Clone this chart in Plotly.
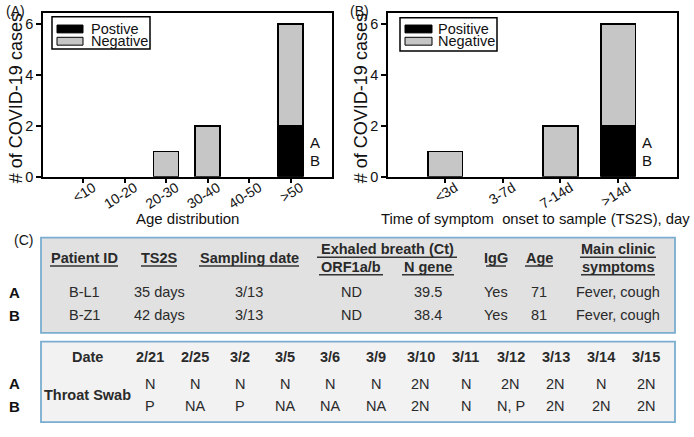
import plotly.graph_objects as go

# ---------------- data ----------------
age_groups = ["<10", "10-20", "20-30", "30-40", "40-50", ">50"]
age_positive = [0, 0, 0, 0, 0, 2]
age_negative = [0, 0, 1, 2, 0, 4]

ts2s_groups = ["<3d", "3-7d", "7-14d", ">14d"]
ts2s_positive = [0, 0, 0, 2]
ts2s_negative = [1, 0, 2, 4]

legend_names_a = ["Postive", "Negative"]
legend_names_b = ["Positive", "Negative"]
y_ticks = [0, 2, 4, 6]
patient_labels = ["A", "B"]
patient_label_y = [1.35, 0.65]

t1_headers = ["Patient ID", "TS2S", "Sampling date", "ORF1a/b", "N gene", "IgG", "Age", "symptoms"]
t1_group_headers = ["Exhaled breath (Ct)", "Main clinic"]
t1_rows = [
    ["B-L1", "35 days", "3/13", "ND", "39.5", "Yes", "71", "Fever, cough"],
    ["B-Z1", "42 days", "3/13", "ND", "38.4", "Yes", "81", "Fever, cough"],
]
t2_dates = ["2/21", "2/25", "3/2", "3/5", "3/6", "3/9", "3/10", "3/11", "3/12", "3/13", "3/14", "3/15"]
t2_rows = [
    ["N", "N", "N", "N", "N", "N", "2N", "N", "2N", "2N", "N", "2N"],
    ["P", "NA", "P", "NA", "NA", "NA", "2N", "N", "N, P", "2N", "2N", "2N"],
]

# ---------------- layout helpers ----------------
W, H = 694, 437
def px(x):
    return x / W
def py(y):
    return 1 - y / H

FONT = '"Liberation Sans", Arial, sans-serif'
GRAY = "#c6c6c6"
INK = "#111111"
TXT = "#2a2a2a"
BORDER = "#7aadd0"

fig = go.Figure()

def add_panel(cats, pos, neg, xa, ya):
    fig.add_trace(go.Bar(x=cats, y=[v if v else None for v in pos], marker=dict(color="black", line=dict(color="black", width=1.5)),
                         width=0.6, xaxis=xa, yaxis=ya, showlegend=False))
    fig.add_trace(go.Bar(x=cats, y=[v if v else None for v in neg], marker=dict(color=GRAY, line=dict(color="black", width=1.5)),
                         width=0.6, xaxis=xa, yaxis=ya, showlegend=False))

add_panel(age_groups, age_positive, age_negative, "x", "y")
add_panel(ts2s_groups, ts2s_positive, ts2s_negative, "x2", "y2")

ydom = [py(180), py(13)]
axis_common = dict(showline=True, linecolor="black", linewidth=1.5, mirror=True, ticks="outside",
                   ticklen=5, tickwidth=1.5, tickcolor="black", showgrid=False, zeroline=False)
xtick = dict(tickangle=-32, ticklabelshift=10, ticklabelstandoff=-9,
             tickfont=dict(family=FONT, size=14, color=INK))
ytick = dict(tickfont=dict(family=FONT, size=14.5, color=INK))
fig.update_layout(
    width=W, height=H, margin=dict(l=0, r=0, t=0, b=0),
    paper_bgcolor="white", plot_bgcolor="white", barmode="stack", bargap=0.4,
    font=dict(family=FONT, color=INK),
    xaxis=dict(domain=[px(43), px(332)], anchor="y", type="category", categoryorder="array",
               categoryarray=age_groups, range=[-0.97, 6.0], **xtick, **axis_common),
    yaxis=dict(domain=ydom, anchor="x", range=[0, 6.45], tickvals=y_ticks, **ytick, **axis_common),
    xaxis2=dict(domain=[px(388), px(677)], anchor="y2", type="category", categoryorder="array",
                categoryarray=ts2s_groups, range=[-0.99, 4.02], **xtick, **axis_common),
    yaxis2=dict(domain=ydom, anchor="x2", range=[0, 6.45], tickvals=y_ticks, **ytick, **axis_common),
)

ann = []
shapes = []

def text(x, y, s, size=14, bold=False, color=TXT, xanchor="center", angle=0):
    ann.append(dict(x=px(x), y=py(y), xref="paper", yref="paper", text=("<b>%s</b>" % s) if bold else s,
                    showarrow=False, xanchor=xanchor, yanchor="middle", textangle=angle,
                    font=dict(family=FONT, size=size, color=color)))

# panel labels and axis titles
text(4, 11, "(A)", 14, color=INK, xanchor="left")
text(348, 11, "(B)", 14, color=INK, xanchor="left")
text(16, 100, "# of COVID-19 cases", 18, color=INK, angle=-90)
text(361, 100, "# of COVID-19 cases", 18, color=INK, angle=-90)
text(188, 223, "Age distribution", 15, color=INK)
text(535, 223, "Time of symptom\u00a0 onset to sample (TS2S), day", 14.8, color=INK)

# A / B labels beside the positive bars
for lab, yv in zip(patient_labels, patient_label_y):
    ann.append(dict(x=age_groups[-1], y=yv, xref="x", yref="y", text=lab, showarrow=False, xanchor="left",
                    xshift=17, font=dict(family=FONT, size=15, color=INK)))
    ann.append(dict(x=ts2s_groups[-1], y=yv, xref="x2", yref="y2", text=lab, showarrow=False, xanchor="left",
                    xshift=22, font=dict(family=FONT, size=15, color=INK)))

# manual legends
def legend(box, sym_x, txt_x, names):
    x0, y0, x1, y1 = box
    shapes.append(dict(type="rect", xref="paper", yref="paper", x0=px(x0), x1=px(x1), y0=py(y1), y1=py(y0),
                       line=dict(color="black", width=1.5), fillcolor="white"))
    for (name, col, yc) in zip(names, ["black", GRAY], [29.5, 42]):
        shapes.append(dict(type="rect", xref="paper", yref="paper", x0=px(sym_x[0]), x1=px(sym_x[1]),
                           y0=py(yc + 4), y1=py(yc - 4), fillcolor=col, line=dict(color="black", width=1)))
        text(txt_x, yc, name, 14.5, color=INK, xanchor="left")

legend((52, 17, 150, 50), (57, 83), 89, legend_names_a)
legend((400, 18, 497, 52), (405, 432), 436, legend_names_b)

# ---------------- table 1 ----------------
shapes.append(dict(type="rect", xref="paper", yref="paper", x0=px(41), x1=px(675), y0=py(339), y1=py(242),
                   fillcolor="#e1e1e1", line=dict(color=BORDER, width=1.8), layer="below"))
text(12, 244, "(C)", 14, color=INK, xanchor="left")

t1_cols = [84, 159, 249, 351, 428, 496, 539, 618]
t1_head_y = [263, 263, 263, 272, 272, 263, 263, 272]
t1_line_half = [34, 18, 50, 32, 26, 10, 14, 37]
for s, cx, hy, hw in zip(t1_headers, t1_cols, t1_head_y, t1_line_half):
    text(cx, hy, s, 14.5, bold=True, color=TXT)
    shapes.append(dict(type="line", xref="paper", yref="paper", x0=px(cx - hw), x1=px(cx + hw),
                       y0=py(hy + 8), y1=py(hy + 8), line=dict(color="#333333", width=1.5)))
for s, cx, hw in zip(t1_group_headers, [387, 618], [70, 38]):
    text(cx, 254, s, 14.5, bold=True, color=TXT)
    shapes.append(dict(type="line", xref="paper", yref="paper", x0=px(cx - hw), x1=px(cx + hw),
                       y0=py(262), y1=py(262), line=dict(color="#333333", width=1.5)))

for lab, row, ry in zip(patient_labels, t1_rows, [297.5, 321]):
    text(14, ry, lab, 15, bold=True, color=INK)
    for s, cx in zip(row, t1_cols):
        text(cx, ry, s, 14.5, color=TXT)

# ---------------- table 2 ----------------
shapes.append(dict(type="rect", xref="paper", yref="paper", x0=px(41), x1=px(675), y0=py(430), y1=py(348),
                   fillcolor="#f2f2f2", line=dict(color=BORDER, width=1.8), layer="below"))
text(87, 364, "Date", 14.5, bold=True, color=TXT)
text(87, 402, "Throat Swab", 14.5, bold=True, color=TXT)
t2_cols = [150 + i * 45.1 for i in range(len(t2_dates))]
for s, cx in zip(t2_dates, t2_cols):
    text(cx, 364, s, 14.5, bold=True, color=TXT)
for lab, row, ry in zip(patient_labels, t2_rows, [391, 414]):
    text(14, ry, lab, 15, bold=True, color=INK)
    for s, cx in zip(row, t2_cols):
        text(cx, ry, s, 14.5, color=TXT)

fig.update_layout(annotations=ann, shapes=shapes)
fig.write_html("out.html", config={"displayModeBar": False},
               post_script="document.body.style.margin='0';document.body.style.overflow='hidden';")
